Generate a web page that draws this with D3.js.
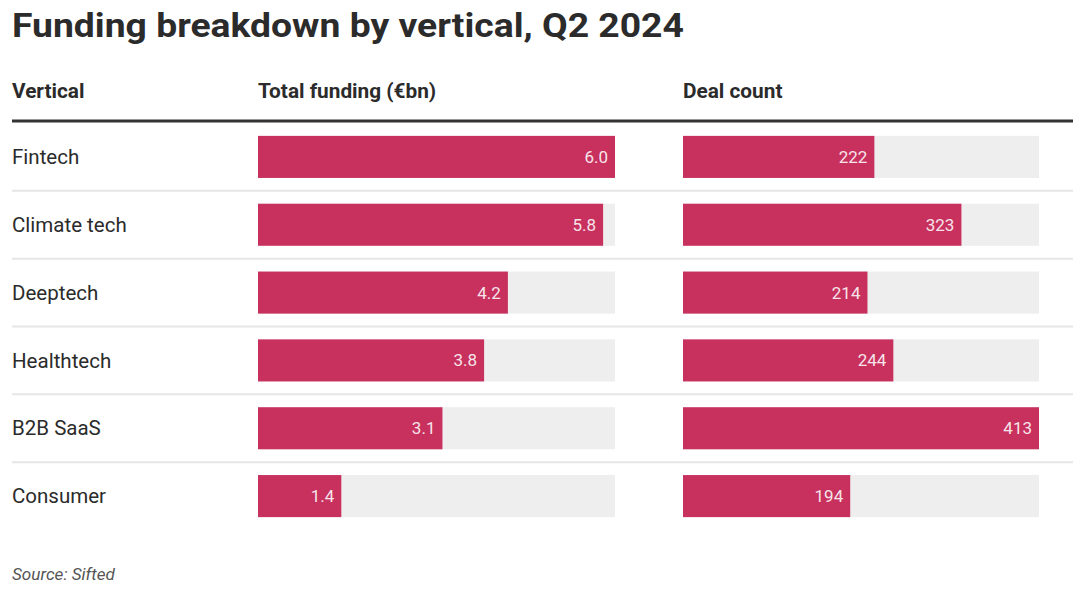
<!DOCTYPE html>
<html><head><meta charset="utf-8">
<script src="https://cdn.jsdelivr.net/npm/d3@7"></script>
<style>body{margin:0;background:#fff;}svg{display:block;}</style>
</head><body>
<svg id="c" width="1080" height="604"></svg>
<script>
const verticals = ["Fintech","Climate tech","Deeptech","Healthtech","B2B SaaS","Consumer"];
const funding = [6.0,5.8,4.2,3.8,3.1,1.4];
const deals = [222,323,214,244,413,194];
const headers = ["Vertical","Total funding (€bn)","Deal count"];

const svg = d3.select("#c");
const font = "Roboto, 'Noto Sans', sans-serif";
const barColor = "#c8305e", track = "#eeeeee", ink = "#2b2b2b";

function stxt(sel, x, y, sx){
  return sel.attr("transform", (d,i)=>`translate(${typeof x==="function"?x(d,i):x},${typeof y==="function"?y(d,i):y}) scale(${sx},1)`);
}

stxt(svg.append("text"),12,37,1.097).attr("font-family",font).attr("font-weight",700)
  .attr("font-size",34).attr("fill",ink).text("Funding breakdown by vertical, Q2 2024");

const colX = [12,258,683];
stxt(svg.selectAll("text.h").data(headers).join("text").attr("class","h"),(d,i)=>colX[i],98,1.04)
  .attr("font-family",font).attr("font-weight",700)
  .attr("font-size",20).attr("fill",ink).text(d=>d);

svg.append("line").attr("x1",12).attr("x2",1073).attr("y1",121).attr("y2",121)
  .attr("stroke","#333").attr("stroke-width",3);

const y = d3.scaleBand().domain(verticals).range([123,530]).paddingInner(0.38).paddingOuter(0.19);
const xF = d3.scaleLinear().domain([0,d3.max(funding)]).range([258,615]);
const xD = d3.scaleLinear().domain([0,d3.max(deals)]).range([683,1039]);

svg.selectAll("line.sep").data(verticals.slice(1)).join("line").attr("class","sep")
  .attr("x1",12).attr("x2",1073)
  .attr("y1",d=>y(d)-y.step()*y.paddingInner()/2).attr("y2",d=>y(d)-y.step()*y.paddingInner()/2)
  .attr("stroke","#e6e6e6").attr("stroke-width",2);

svg.selectAll("text.cat").data(verticals).join("text").attr("class","cat")
  .attr("x",12).attr("y",d=>y(d)+y.bandwidth()/2).attr("dy","0.35em")
  .attr("font-family",font).attr("font-size",20.5).attr("fill",ink).text(d=>d);

function panel(vals, x, fmt){
  const g = svg.append("g");
  g.selectAll("rect.t").data(verticals).join("rect").attr("class","t")
    .attr("x",x.range()[0]).attr("width",x.range()[1]-x.range()[0])
    .attr("y",d=>y(d)).attr("height",y.bandwidth()).attr("fill",track);
  g.selectAll("rect.b").data(vals).join("rect").attr("class","b")
    .attr("x",x(0)).attr("width",d=>x(d)-x(0))
    .attr("y",(d,i)=>y(verticals[i])).attr("height",y.bandwidth()).attr("fill",barColor);
  g.selectAll("text.v").data(vals).join("text").attr("class","v")
    .attr("x",d=>x(d)-7).attr("y",(d,i)=>y(verticals[i])+y.bandwidth()/2).attr("dy","0.35em")
    .attr("text-anchor","end").attr("font-family",font).attr("font-size",17)
    .attr("fill","#f6e4ea").text(fmt);
}
panel(funding,xF,d=>d.toFixed(1));
panel(deals,xD,d=>d);

stxt(svg.append("text"),12,580,1.07).attr("font-family",font).attr("font-style","italic")
  .attr("font-size",16).attr("fill","#555").text("Source: Sifted");
</script>
</body></html>
